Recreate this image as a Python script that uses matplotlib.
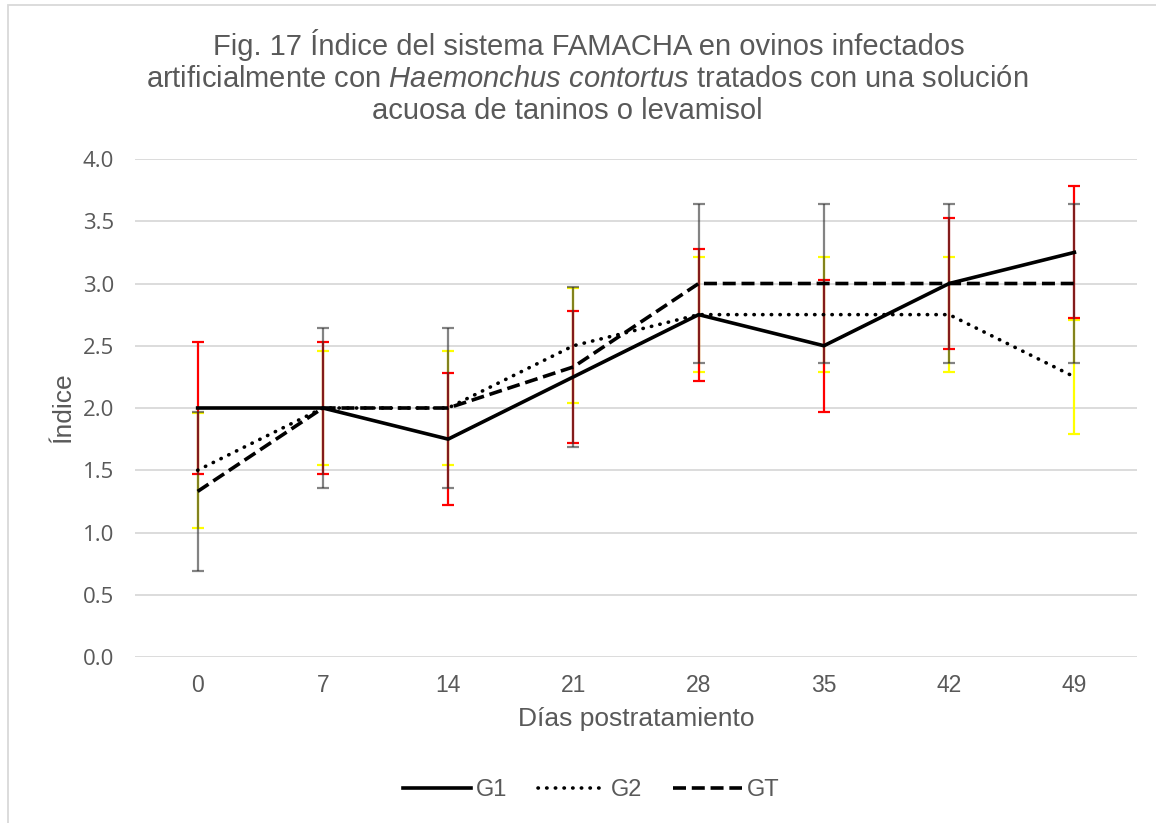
import numpy as np
import matplotlib
matplotlib.use("Agg")
import matplotlib.pyplot as plt
from matplotlib.patches import Rectangle

plt.rcParams['font.family'] = ['Liberation Sans', 'DejaVu Sans']
plt.rcParams['mathtext.fontset'] = 'custom'
plt.rcParams['mathtext.rm'] = 'Liberation Sans'
plt.rcParams['mathtext.it'] = 'Liberation Sans:italic'

# días postratamiento
dias = ['0', '7', '14', '21', '28', '35', '42', '49']

# índice FAMACHA promedio por grupo
g1 = [2.0, 2.0, 1.75, 2.25, 2.75, 2.5, 3.0, 3.25]
g2 = [1.5, 2.0, 2.0, 2.5, 2.75, 2.75, 2.75, 2.25]
gt = [1.33, 2.0, 2.0, 2.33, 3.0, 3.0, 3.0, 3.0]

# desviación estándar de cada grupo
err_g1 = 0.53
err_g2 = 0.46
err_gt = 0.64

texto = '#595959'
x = np.arange(len(dias))

fig = plt.figure(figsize=(11.56, 8.23), dpi=100)
ax = fig.add_axes([0.1168, 0.2017, 0.8668, 0.6051])

# barras de error (G2 amarillo, G1 rojo, GT gris encima)
ax.errorbar(x, g2, yerr=err_g2, fmt='none', ecolor='#ffff00', elinewidth=1.6,
            capsize=4.5, capthick=1.6, zorder=2)
ax.errorbar(x, g1, yerr=err_g1, fmt='none', ecolor='#ff0000', elinewidth=1.6,
            capsize=4.5, capthick=1.6, zorder=3)
ax.errorbar(x, gt, yerr=err_gt, fmt='none', ecolor='#303030', elinewidth=1.6,
            capsize=4.5, capthick=1.6, alpha=0.6, zorder=4)

# líneas de cada grupo
ax.plot(x, g1, color='black', lw=2.6, ls='-', label='G1', zorder=5)
ax.plot(x, g2, color='black', lw=2.6, ls=(0, (0.1, 2.3)), dash_capstyle='round',
        label='G2', zorder=5)
ax.plot(x, gt, color='black', lw=2.6, ls=(0, (3.6, 1.6)), label='GT', zorder=5)

ax.set_xlim(-0.5, len(dias) - 0.5)
ax.set_ylim(0, 4)
ax.set_yticks(np.arange(0, 4.01, 0.5))
ax.set_yticklabels([f'{v:.1f}' for v in np.arange(0, 4.01, 0.5)],
                   family='Open Sans', fontsize=16, color=texto)
ax.set_xticks(x)
ax.set_xticklabels(dias, fontsize=16.5, color=texto)
ax.tick_params(axis='x', length=0, pad=12)
ax.tick_params(axis='y', length=0, pad=15)
ax.grid(axis='y', color='#d9d9d9', lw=1.3)
ax.set_axisbelow(True)
for s in ax.spines.values():
    s.set_visible(False)

ax.set_xlabel('Días postratamiento', fontsize=19, color=texto)
ax.xaxis.set_label_coords(0.5, -0.1)
ax.set_ylabel('Índice', fontsize=19, color=texto)
ax.yaxis.set_label_coords(-0.06, 0.5)

# título en tres renglones
fig.text(589 / 1156, 1 - 55 / 823,
         'Fig. 17 Índice del sistema FAMACHA en ovinos infectados',
         ha='center', va='baseline', fontsize=21, color=texto)
fig.text(587 / 1156, 1 - 87 / 823,
         r'artificialmente con $\mathit{Haemonchus\ contortus}$ tratados con una solución',
         ha='center', va='baseline', fontsize=21, color=texto)
fig.text(567 / 1156, 1 - 119 / 823, 'acuosa de taninos o levamisol',
         ha='center', va='baseline', fontsize=21, color=texto)

leg = ax.legend(loc='center', bbox_to_anchor=(0.455, -0.267), ncol=3, frameon=False,
                fontsize=17, handlelength=2.9, columnspacing=1.3, handletextpad=0.2)
for t in leg.get_texts():
    t.set_color(texto)

# marco del gráfico
fig.patches.append(Rectangle((8 / 1156, -0.05), 1.1, 1 - 5 / 823 + 0.05,
                             transform=fig.transFigure, fill=False,
                             edgecolor='#d9d9d9', lw=1.3))

fig.savefig('out.png', dpi=100)
